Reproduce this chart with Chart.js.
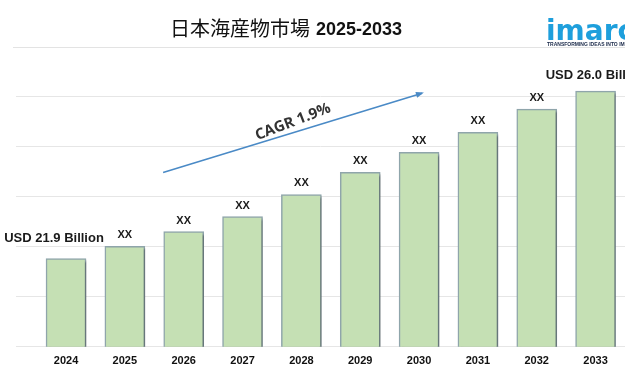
<!DOCTYPE html>
<html>
<head>
<meta charset="utf-8">
<script src="https://cdn.jsdelivr.net/npm/chart.js@4.4.0/dist/chart.umd.min.js"></script>
<style>
  html, body { margin: 0; padding: 0; background: #fff; }
  #wrap { width: 625px; height: 375px; position: relative; }
</style>
</head>
<body>
<div id="wrap"><canvas id="chart"></canvas></div>
<script>
// data read off the picture (only the two end values are printed, the rest are estimated from bar heights)
const years = ['2024', '2025', '2026', '2027', '2028', '2029', '2030', '2031', '2032', '2033'];
const values = [21.9, 22.2, 22.56, 22.93, 23.47, 24.01, 24.5, 24.99, 25.56, 26.0];
const barLabels = ['USD 21.9 Billion', 'XX', 'XX', 'XX', 'XX', 'XX', 'XX', 'XX', 'XX', 'USD 26.0 Billion'];
const gridTicks = [19.74, 20.97, 22.2, 23.42, 24.65, 25.88];
const titleText = '日本海産物市場';
const titleYears = '2025-2033';
const cagrText = 'CAGR 1.9%';

const decor = {
  id: 'decor',
  beforeDatasetsDraw(chart) {
    const ctx = chart.ctx;
    ctx.save();
    ctx.shadowColor = 'rgba(0,0,0,0.3)';
    ctx.shadowOffsetX = 2;
    ctx.shadowOffsetY = 2;
    ctx.shadowBlur = 2;
  },
  afterDatasetsDraw(chart) {
    const ctx = chart.ctx;
    ctx.restore();
    const { x, y } = chart.scales;

    // title
    ctx.save();
    ctx.textBaseline = 'middle';
    ctx.fillStyle = '#111';
    ctx.font = '20px "Noto Sans CJK JP", "Liberation Sans", sans-serif';
    const w1 = ctx.measureText(titleText).width + 6;
    ctx.font = 'bold 18px "Liberation Sans", Arial, sans-serif';
    const w2 = ctx.measureText(titleYears).width;
    let tx = 286 - (w1 + w2) / 2;
    ctx.font = '20px "Noto Sans CJK JP", "Liberation Sans", sans-serif';
    ctx.textAlign = 'left';
    ctx.fillText(titleText, tx, 28);
    ctx.font = 'bold 18px "Liberation Sans", Arial, sans-serif';
    ctx.fillText(titleYears, tx + w1, 30);
    ctx.restore();

    // separator
    ctx.save();
    ctx.strokeStyle = '#e3e3e3';
    ctx.lineWidth = 1;
    ctx.beginPath();
    ctx.moveTo(13, 47.5);
    ctx.lineTo(625, 47.5);
    ctx.stroke();
    ctx.restore();

    // logo
    ctx.save();
    ctx.fillStyle = '#1e9fdc';
    ctx.font = 'bold 28px "DejaVu Sans", sans-serif';
    ctx.textAlign = 'left';
    ctx.textBaseline = 'alphabetic';
    ctx.fillText('imarc', 546, 40);
    ctx.fillStyle = '#1b2a4a';
    ctx.font = 'bold 5px "Liberation Sans", sans-serif';
    ctx.fillText('TRANSFORMING IDEAS INTO IMPACT', 547, 46);
    ctx.restore();

    // bar labels
    const meta = chart.getDatasetMeta(0);
    ctx.save();
    ctx.fillStyle = '#1a1a1a';
    ctx.textAlign = 'center';
    ctx.textBaseline = 'middle';
    meta.data.forEach((bar, i) => {
      const big = barLabels[i].length > 2;
      ctx.font = big ? 'bold 13px "Liberation Sans", Arial, sans-serif' : 'bold 11px "Liberation Sans", Arial, sans-serif';
      const dx = i === 0 ? -12 : 0;
      const dy = big ? (i === 0 ? 20 : 16) : 11;
      ctx.fillText(barLabels[i], bar.x + dx, bar.y - dy);
    });
    ctx.restore();

    // CAGR arrow
    const x0 = x.getPixelForValue(1.65), y0 = y.getPixelForValue(24.01);
    const x1 = x.getPixelForValue(6.05), y1 = y.getPixelForValue(25.95);
    ctx.save();
    ctx.strokeStyle = '#4a8ac6';
    ctx.fillStyle = '#4a8ac6';
    ctx.lineWidth = 1.6;
    ctx.beginPath();
    ctx.moveTo(x0, y0);
    ctx.lineTo(x1, y1);
    ctx.stroke();
    const ang = Math.atan2(y1 - y0, x1 - x0);
    ctx.translate(x1, y1);
    ctx.rotate(ang);
    ctx.beginPath();
    ctx.moveTo(2, 0);
    ctx.lineTo(-6, -3);
    ctx.lineTo(-6, 3);
    ctx.closePath();
    ctx.fill();
    ctx.restore();

    ctx.save();
    ctx.translate(293, 122);
    ctx.rotate(-21 * Math.PI / 180);
    ctx.fillStyle = '#333';
    ctx.font = 'bold 15px "Open Sans", "Liberation Sans", sans-serif';
    ctx.textAlign = 'center';
    ctx.textBaseline = 'middle';
    ctx.fillText(cagrText, 0, 0);
    ctx.restore();
  }
};

new Chart(document.getElementById('chart'), {
  type: 'bar',
  data: {
    datasets: [{
      data: values.map((v, i) => ({ x: i, y: v })),
      backgroundColor: '#c5e0b4',
      borderColor: '#8fa5ab',
      borderWidth: 1.5,
      borderSkipped: false,
      barThickness: 40
    }]
  },
  options: {
    responsive: true,
    maintainAspectRatio: false,
    animation: false,
    events: [],
    layout: { padding: { top: 85, left: 16, right: 0, bottom: 7 } },
    plugins: { legend: { display: false }, tooltip: { enabled: false }, title: { display: false } },
    scales: {
      x: {
        type: 'linear',
        offset: false,
        min: -0.85,
        max: 9.5,
        grid: { display: false },
        border: { display: false },
        afterBuildTicks(scale) {
          scale.ticks = years.map((_, i) => ({ value: i }));
        },
        ticks: {
          callback: (v) => years[v],
          color: '#111',
          padding: 0,
          maxRotation: 0,
          font: { family: '"Liberation Sans", Arial, sans-serif', size: 11, weight: 'bold' }
        }
      },
      y: {
        min: 19.74,
        max: 26.15,
        afterBuildTicks(scale) {
          scale.ticks = gridTicks.map(v => ({ value: v }));
        },
        grid: { color: '#e6e6e6', drawTicks: false, lineWidth: 1 },
        border: { display: false },
        ticks: { display: false }
      }
    }
  },
  plugins: [decor]
});
</script>
</body>
</html>
